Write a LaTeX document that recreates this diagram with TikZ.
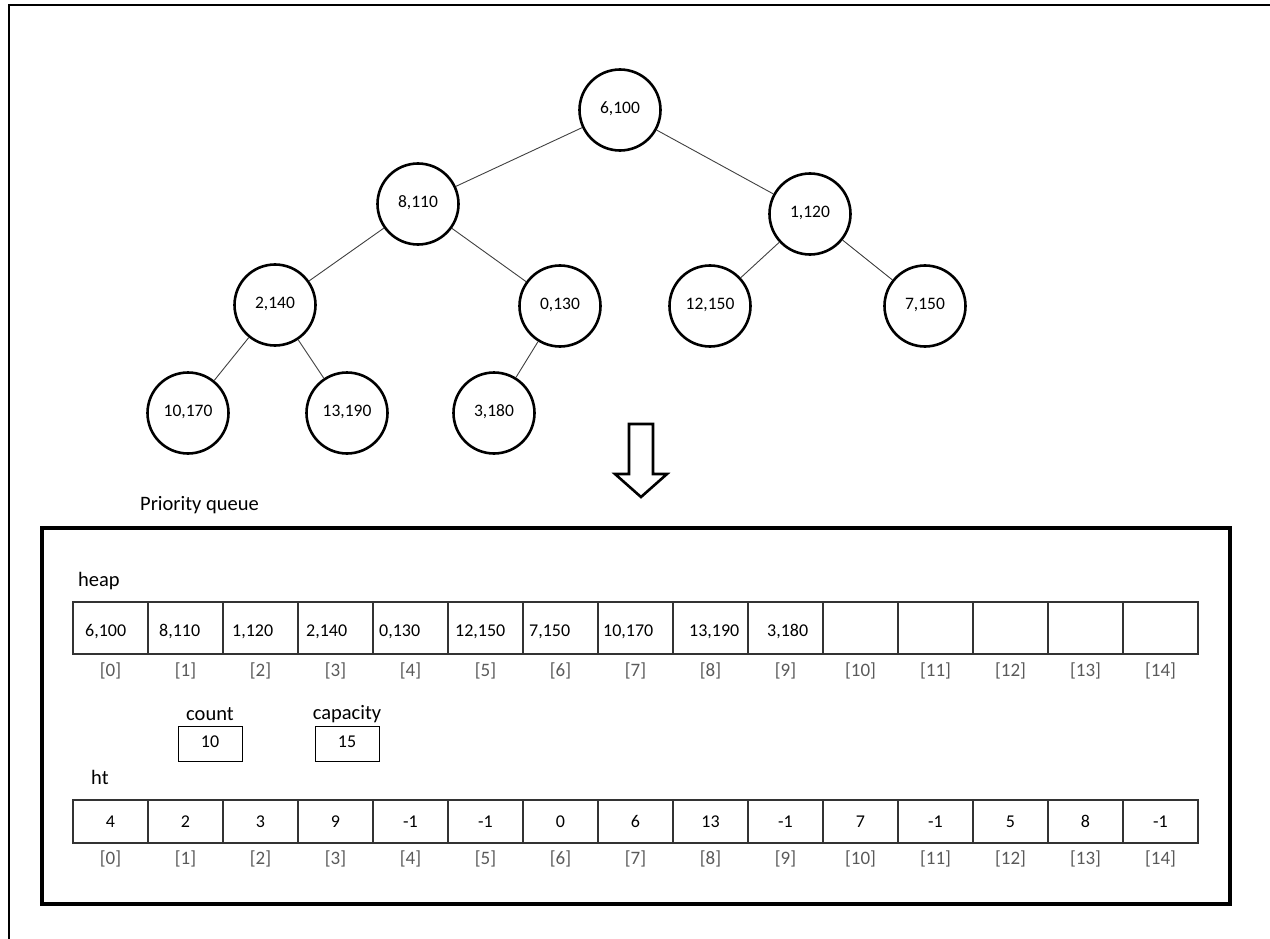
\documentclass[tikz,border=0pt]{standalone}
\usepackage{fontspec}
\setmainfont{Carlito}
\begin{document}
\begin{tikzpicture}[x=1pt,y=-1pt,
  lbl/.style={font=\fontsize{20.5}{24}\selectfont},
  val/.style={font=\fontsize{18}{21}\selectfont,text height=1.35ex,text depth=0pt},
  treenode/.style={circle,draw,line width=2.6pt,minimum size=81pt,inner sep=0pt,
    font=\fontsize{17.5}{21}\selectfont,text height=1.35ex,text depth=0pt},
  treeedge/.style={draw=black!75,line width=0.9pt},
  cell/.style={draw=black!80,line width=1.2pt},
  idx/.style={text=black!65,font=\fontsize{19}{22}\selectfont,text height=1.45ex,text depth=0.35ex},
  valbox/.style={draw,line width=1pt,minimum width=64pt,minimum height=35pt,inner sep=0pt}]
\useasboundingbox (0,0) rectangle (1270,939);
% page frame (only its top and left sides are in view)
\draw[line width=2.4pt] (9,939) -- (9,5) -- (1270,5);

% binary heap as a tree
\node[treenode] (n0) at (620,110) {6,100};
\node[treenode] (n1) at (418,204) {8,110};
\node[treenode] (n2) at (810,214) {1,120};
\node[treenode] (n3) at (275,305) {2,140};
\node[treenode] (n4) at (560,306) {0,130};
\node[treenode] (n5) at (710,306) {12,150};
\node[treenode] (n6) at (925,306) {7,150};
\node[treenode] (n7) at (188,413) {10,170};
\node[treenode] (n8) at (347,413) {13,190};
\node[treenode] (n9) at (494,413) {3,180};
\foreach \a/\b in {n0/n1,n0/n2,n1/n3,n1/n4,n2/n5,n2/n6,n3/n7,n3/n8,n4/n9}
  \draw[treeedge] (\a) -- (\b);

% hollow down arrow
\draw[line width=2.6pt,line join=miter,fill=white]
  (629,424) -- (653,424) -- (653,474) -- (667,474) -- (641,497)
  -- (615,474) -- (629,474) -- cycle;

% priority queue structure
\node[lbl,anchor=west,inner sep=0pt] (pq) at (140,505) {Priority queue};
\draw[line width=3.2pt] (42,528) rectangle (1230,904);

% heap array
\node[lbl,anchor=west,inner sep=0pt] (heaplbl) at (78,581) {heap};
\foreach \i in {0,...,14} {
  \draw[cell] ({73+75*\i},602) rectangle ({148+75*\i},654);
  \node[idx] at ({110.5+75*\i},674) {[\i]};
}
\foreach \x/\v in {85/{6,100},159/{8,110},232/{1,120},306/{2,140},379/{0,130},
                   455/{12,150},529/{7,150},603/{10,170},689/{13,190},767/{3,180}}
  \node[val,anchor=west,inner sep=0pt] at (\x,633) {\v};

% scalar fields
\node[lbl] (cntlbl) at (210,714) {count};
\node[valbox,val] (cnt) at (210,744) {10};
\node[lbl] (caplbl) at (347,714) {capacity};
\node[valbox,val] (cap) at (347,744) {15};

% ht array
\node[lbl,anchor=west,inner sep=0pt] (htlbl) at (91,777) {ht};
\foreach \i/\v in {0/4,1/2,2/3,3/9,4/-1,5/-1,6/0,7/6,8/13,9/-1,10/7,11/-1,12/5,13/8,14/-1} {
  \draw[cell] ({73+75*\i},800) rectangle ({148+75*\i},843);
  \node[val] at ({110.5+75*\i},824) {\v};
  \node[idx] at ({110.5+75*\i},862) {[\i]};
}
\end{tikzpicture}
\end{document}
